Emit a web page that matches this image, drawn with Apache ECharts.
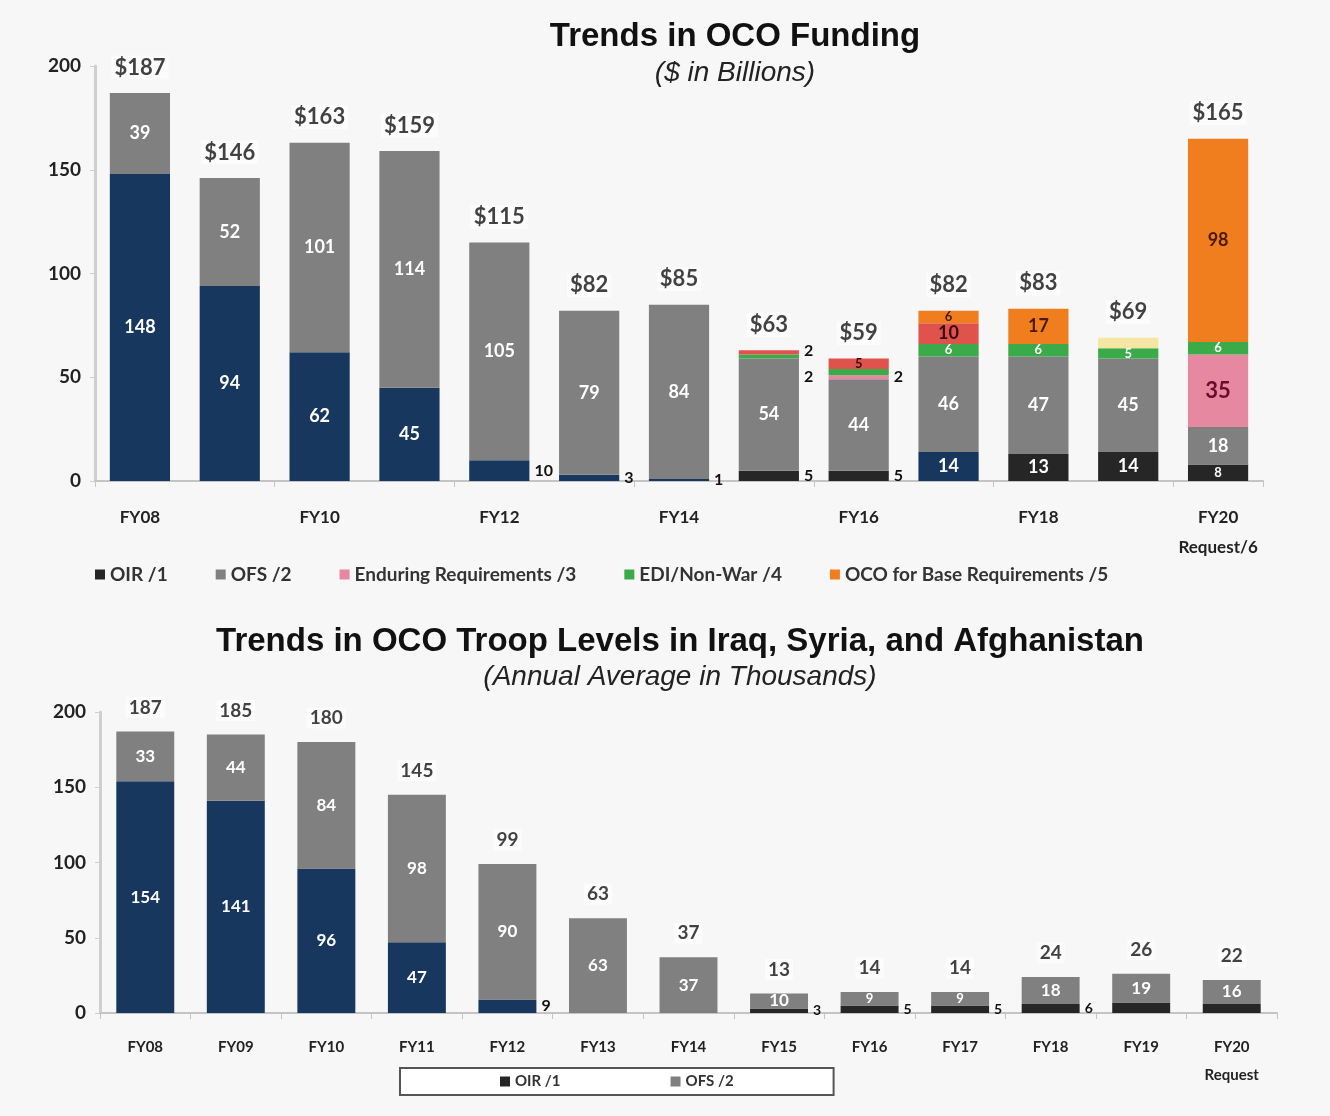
<!DOCTYPE html>
<html>
<head>
<meta charset="utf-8">
<script src="https://cdn.jsdelivr.net/npm/echarts@6/dist/echarts.min.js"></script>
<style>
  html, body { margin: 0; padding: 0; background: #f7f7f7; }
  #chart { width: 1330px; height: 1116px; }
</style>
</head>
<body>
<div id="chart"></div>
<script>
// funding, $ in billions (stacked bottom -> top)
const fundingYears = ['FY08', 'FY09', 'FY10', 'FY11', 'FY12', 'FY13', 'FY14', 'FY15', 'FY16', 'FY17', 'FY18', 'FY19', 'FY20\nRequest/6']
const fundingOIF = [148, 94, 62, 45, 10, 3, 1, 0, 0, 0, 0, 0, 0]
const fundingOIR = [0, 0, 0, 0, 0, 0, 0, 5, 5, 14, 13, 14, 8]
const fundingOFS = [39, 52, 101, 114, 105, 79, 84, 54, 44, 46, 47, 45, 18]
const fundingEnduring = [0, 0, 0, 0, 0, 0, 0, 0, 2, 0, 0, 0, 35]
const fundingEDI = [0, 0, 0, 0, 0, 0, 0, 2, 3, 6, 6, 5, 6]
const fundingRed = [0, 0, 0, 0, 0, 0, 0, 2, 5, 10, 0, 0, 0]
const fundingYellow = [0, 0, 0, 0, 0, 0, 0, 0, 0, 0, 0, 5, 0]
const fundingBase = [0, 0, 0, 0, 0, 0, 0, 0, 0, 6, 17, 0, 98]
const fundingTotals = [187, 146, 163, 159, 115, 82, 85, 63, 59, 82, 83, 69, 165]

// troops, annual average in thousands
const troopYears = ['FY08', 'FY09', 'FY10', 'FY11', 'FY12', 'FY13', 'FY14', 'FY15', 'FY16', 'FY17', 'FY18', 'FY19', 'FY20\nRequest']
const troopOIF = [154, 141, 96, 47, 9, 0, 0, 0, 0, 0, 0, 0, 0]
const troopOIR = [0, 0, 0, 0, 0, 0, 0, 3, 5, 5, 6, 7, 6]
const troopOFS = [33, 44, 84, 98, 90, 63, 37, 10, 9, 9, 18, 19, 16]
const troopTotals = [187, 185, 180, 145, 99, 63, 37, 13, 14, 14, 24, 26, 22]

const yTicks = [0, 50, 100, 150, 200]

const NAVY = '#17375E'
const DARK = '#262626'
const GRAY = '#808080'
const PINK = '#E6889F'
const GREEN = '#3BAA48'
const RED = '#E0534D'
const YELLOW = '#F5E6A3'
const ORANGE = '#F07E1F'
const FONT = 'Lato, "Liberation Sans", sans-serif'
const TITLE_FONT = '"Liberation Sans", Arial, sans-serif'

// builds bar data with a label per segment
const segData = (values, opts) => {
  return values.map((v, i) => {
    let item = {value: v}
    if (opts.colorAt && opts.colorAt[i]) item.itemStyle = {color: opts.colorAt[i]}
    if (!v) {
      item.label = {show: false}
    } else if (opts.side && opts.side(v, i)) {
      item.label = {show: true, position: 'right', distance: 5, color: '#111', fontSize: opts.sideSize || 16,
        fontWeight: 'bold', offset: (opts.offsetAt && opts.offsetAt[i]) || [0, 0]}
    } else {
      item.label = {show: v >= (opts.min || 5), position: 'inside', color: opts.text || '#fff',
        fontSize: v < 10 ? 13 : (opts.size || 18), fontWeight: 'bold'}
    }
    return item
  })
}

const bar = (name, color, data, axis, gap) => ({
  name: name,
  type: 'bar',
  stack: 'total' + axis,
  xAxisIndex: axis,
  yAxisIndex: axis,
  barCategoryGap: gap,
  itemStyle: {color: color},
  label: {fontFamily: FONT},
  data: data
})

const totals = (data, axis, prefix, size) => ({
  type: 'scatter',
  xAxisIndex: axis,
  yAxisIndex: axis,
  symbolSize: 1,
  itemStyle: {color: 'rgba(0,0,0,0)'},
  silent: true,
  label: {
    show: true,
    position: 'top',
    distance: 13,
    formatter: p => prefix + p.value,
    color: '#111',
    fontSize: size,
    fontWeight: 'bold',
    fontFamily: FONT,
    backgroundColor: 'rgba(255,255,255,0.75)',
    padding: [1, 3]
  },
  data: data
})

const xAxisBase = (cats, grid, size, interval, margin) => ({
  type: 'category',
  gridIndex: grid,
  data: cats,
  axisLine: {lineStyle: {color: '#c4c4c4', width: 2}},
  axisTick: {show: true, length: 6, interval: interval, lineStyle: {color: '#c4c4c4'}},
  axisLabel: {interval: interval, margin: margin, color: '#222', fontSize: size, fontWeight: 'bold',
    fontFamily: FONT, lineHeight: size + 13}
})

const yAxisBase = (grid) => ({
  type: 'value',
  gridIndex: grid,
  min: yTicks[0],
  max: yTicks[yTicks.length - 1],
  interval: yTicks[1] - yTicks[0],
  splitLine: {show: false},
  axisLine: {show: true, lineStyle: {color: '#cfcfcf', width: 3}},
  axisTick: {show: true, length: 5, lineStyle: {color: '#cfcfcf'}},
  axisLabel: {color: '#222', fontSize: 19, fontWeight: 'bold', fontFamily: FONT, margin: 14}
})

const darkSide = (v, i) => v <= 10 && i < 12
const tinySide = v => v <= 2

let chart = echarts.init(document.getElementById('chart'))
let option = {
  backgroundColor: '#f7f7f7',
  animation: false,
  title: [
    {
      text: 'Trends in OCO Funding',
      subtext: '($ in Billions)',
      left: 735, top: 19, textAlign: 'center', padding: 0, itemGap: 2,
      textStyle: {fontSize: 33, fontWeight: 'bold', color: '#111', fontFamily: TITLE_FONT, lineHeight: 36},
      subtextStyle: {fontSize: 28, fontStyle: 'italic', color: '#222', fontFamily: TITLE_FONT, lineHeight: 32}
    },
    {
      text: 'Trends in OCO Troop Levels in Iraq, Syria, and Afghanistan',
      subtext: '(Annual Average in Thousands)',
      left: 680, top: 624, textAlign: 'center', padding: 0, itemGap: 1,
      textStyle: {fontSize: 33, fontWeight: 'bold', color: '#111', fontFamily: TITLE_FONT, lineHeight: 36},
      subtextStyle: {fontSize: 28, fontStyle: 'italic', color: '#222', fontFamily: TITLE_FONT, lineHeight: 32}
    }
  ],
  legend: [
    {
      data: ['OIR /1', 'OFS /2', 'Enduring Requirements /3', 'EDI/Non-War /4', 'OCO for Base Requirements /5'],
      left: 95, top: 565, padding: 0, itemGap: 48,
      icon: 'rect', itemWidth: 10, itemHeight: 10,
      textStyle: {fontSize: 19, fontWeight: 'bold', color: '#333', fontFamily: FONT}
    },
    {
      data: ['OIR /1', 'OFS /2'],
      left: 400, top: 1068, padding: [6, 100, 6, 100], itemGap: 110,
      borderColor: '#555', borderWidth: 2, backgroundColor: '#fff',
      icon: 'rect', itemWidth: 10, itemHeight: 10,
      textStyle: {fontSize: 15, fontWeight: 'bold', color: '#333', fontFamily: FONT}
    }
  ],
  grid: [
    {left: 95, top: 66, width: 1168, height: 415},
    {left: 100, top: 712, width: 1177, height: 301}
  ],
  xAxis: [
    xAxisBase(fundingYears, 0, 17, 1, 22),
    xAxisBase(troopYears, 1, 15, 0, 20)
  ],
  yAxis: [yAxisBase(0), yAxisBase(1)],
  series: [
    bar('OIF/OND', NAVY, segData(fundingOIF, {side: darkSide}), 0, '33%'),
    bar('OIR /1', DARK, segData(fundingOIR, {side: darkSide, colorAt: {9: NAVY}}), 0, '33%'),
    bar('OFS /2', GRAY, segData(fundingOFS, {side: tinySide}), 0, '33%'),
    bar('Enduring Requirements /3', PINK, segData(fundingEnduring, {side: tinySide, text: '#6b0a2a', size: 22}), 0, '33%'),
    bar('EDI/Non-War /4', GREEN, segData(fundingEDI, {side: tinySide, text: '#fff', offsetAt: {7: [0, 20]}}), 0, '33%'),
    bar('Other', RED, segData(fundingRed, {side: tinySide, text: '#3a0a0a', offsetAt: {7: [0, -2]}}), 0, '33%'),
    bar('Other2', YELLOW, segData(fundingYellow, {min: 99}), 0, '33%'),
    bar('OCO for Base Requirements /5', ORANGE, segData(fundingBase, {text: '#4a1a00'}), 0, '33%'),
    totals(fundingTotals, 0, '$', 22),

    bar('OIF/OND', NAVY, segData(troopOIF, {side: (v) => v < 10, size: 17}), 1, '36%'),
    bar('OIR /1', DARK, segData(troopOIR, {side: (v, i) => i < 11 && v <= 6, sideSize: 14, min: 99}), 1, '36%'),
    bar('OFS /2', GRAY, segData(troopOFS, {size: 17, min: 9}), 1, '36%'),
    totals(troopTotals, 1, '', 19)
  ]
}
option && chart.setOption(option)
</script>
</body>
</html>
